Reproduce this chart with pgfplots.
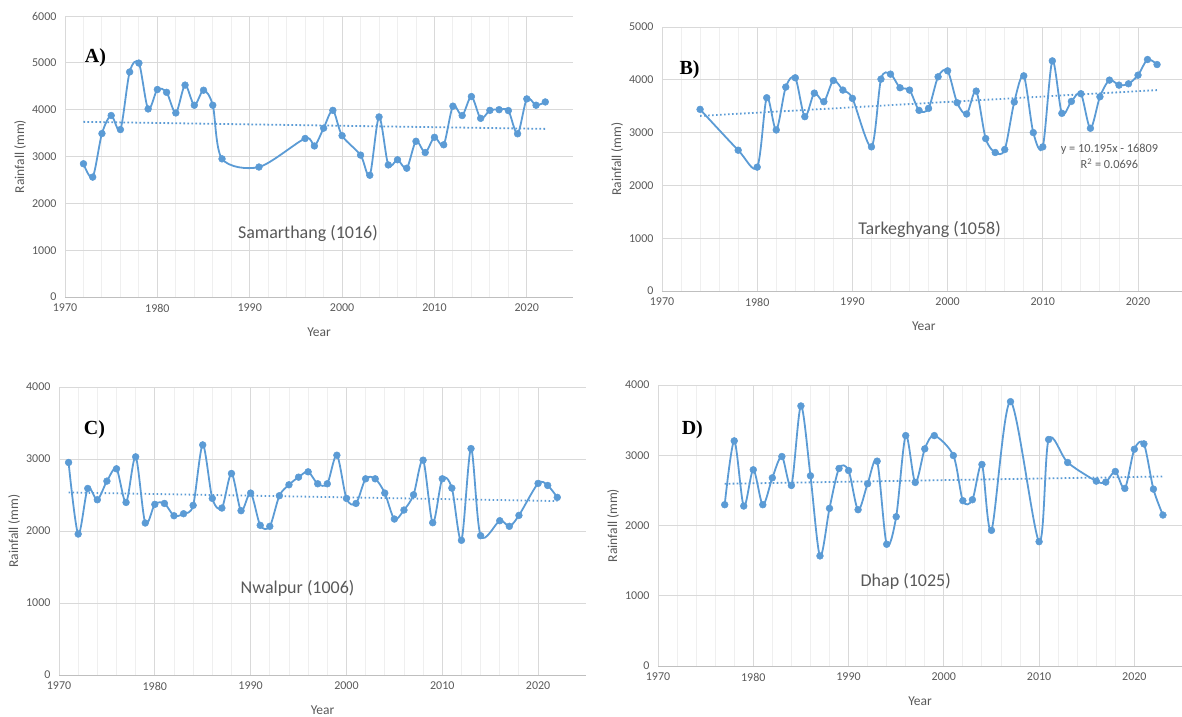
\documentclass[border=0pt]{standalone}
\usepackage{pgfplots}
\pgfplotsset{compat=1.18}
\usepackage{fontspec}
\setmainfont{Carlito}
\newfontfamily\timesfont{Liberation Serif}
\definecolor{lineblue}{HTML}{5B9BD5}
\definecolor{tickgray}{HTML}{595959}
\definecolor{gridmaj}{HTML}{D9D9D9}
\definecolor{gridmin}{HTML}{EFEFEF}
\definecolor{axisgray}{HTML}{BFBFBF}
\pgfplotsset{
  panel/.style={
    scale only axis, anchor=south west,
    xmin=1970, xmax=2025, ymin=0,
    xtick={1970,1980,...,2020},
    minor x tick num=4,
    xmajorgrids, ymajorgrids, xminorgrids,
    major grid style={draw=gridmaj, line width=0.9pt},
    minor grid style={draw=gridmin, line width=0.9pt},
    axis x line*=bottom, axis y line*=left,
    x axis line style={-, draw=axisgray, line width=1pt},
    y axis line style={-, draw=gridmaj, line width=0.9pt},
    major tick length=0pt, minor tick length=0pt,
    /pgf/number format/assume math mode=true,
    /pgf/number format/set thousands separator={},
    tick label style={font=\fontsize{12}{14}\selectfont, text=tickgray},
    yticklabel style={xshift=-5pt},
    xticklabel style={yshift=-6pt, inner sep=1pt},
    every axis y label/.style={at={(axis description cs:0,0.5)}, shift={(-45pt,0pt)}, rotate=90, anchor=center, font=\fontsize{13.5}{15}\selectfont, text=tickgray},
    every axis x label/.style={at={(axis description cs:0.5,0)}, anchor=center, yshift=-35pt, font=\fontsize{13.5}{15}\selectfont, text=tickgray},
    xlabel={Year}, ylabel={Rainfall (mm)},
    clip=false,
  },
  series/.style={color=lineblue, line width=1.8pt, smooth, tension=0.5, mark=*, mark size=3.4pt, mark options={fill=lineblue, draw=lineblue, line width=0.5pt}},
  trend/.style={color=lineblue, line width=1.8pt, dash pattern=on 1.6pt off 2.4pt, no marks},
}
\newcommand{\station}{\fontsize{18}{20}\selectfont\color{tickgray}}
\newcommand{\plabel}{\timesfont\bfseries\fontsize{20}{22}\selectfont}
\begin{document}
\begin{tikzpicture}
% ---------------- A ----------------
\begin{axis}[panel, at={(65pt,419pt)}, width=508pt, height=281pt, ymax=6000, ytick={0,1000,...,6000}]
\addplot[trend] coordinates {(1972,3740) (2022,3590)};
\addplot[series] coordinates {
(1972,2845) (1973,2560) (1974,3490) (1975,3875) (1976,3575) (1977,4805) (1978,4995) (1979,4015)
(1980,4430) (1981,4370) (1982,3930) (1983,4525) (1984,4095) (1985,4415) (1986,4095) (1987,2950)
(1991,2775) (1996,3385) (1997,3225) (1998,3605) (1999,3985) (2000,3445) (2002,3030) (2003,2600)
(2004,3845) (2005,2820) (2006,2930) (2007,2750) (2008,3325) (2009,3085) (2010,3410) (2011,3250)
(2012,4075) (2013,3875) (2014,4280) (2015,3815) (2016,3985) (2017,4000) (2018,3980) (2019,3485)
(2020,4230) (2021,4095) (2022,4165)};
\node[font=\station] at (axis cs:1996.3,1367) {Samarthang (1016)};
\node[font=\plabel] at (axis cs:1973.3,5103) {A)};
\end{axis}
% ---------------- B ----------------
\begin{axis}[panel, at={(662pt,425pt)}, width=523.6pt, height=264pt, ymax=5000, ytick={0,1000,...,5000}]
\addplot[trend] coordinates {(1974,3316) (2022,3805)};
\addplot[series] coordinates {
(1974,3440) (1978,2667) (1980,2346) (1981,3660) (1982,3050) (1983,3862) (1984,4038) (1985,3302)
(1986,3748) (1987,3585) (1988,3987) (1989,3805) (1990,3648) (1992,2730) (1993,4013) (1994,4107)
(1995,3849) (1996,3805) (1997,3421) (1998,3459) (1999,4057) (2000,4170) (2001,3566) (2002,3352)
(2003,3786) (2004,2887) (2005,2623) (2006,2679) (2007,3579) (2008,4075) (2009,3000) (2010,2730)
(2011,4358) (2012,3365) (2013,3591) (2014,3736) (2015,3082) (2016,3679) (2017,3994) (2018,3899)
(2019,3925) (2020,4088) (2021,4384) (2022,4289)};
\node[font=\station] at (axis cs:1998.1,1174) {Tarkeghyang (1058)};
\node[font=\plabel] at (axis cs:1972.9,4186) {B)};
\node[font=\fontsize{12.3}{14}\selectfont, text=tickgray] at (axis cs:2017,2689) {y = 10.195x - 16809};
\node[font=\fontsize{12.3}{14}\selectfont, text=tickgray] at (axis cs:2017,2405) {R\textsuperscript{2} = 0.0696};
\end{axis}
% ---------------- C ----------------
\begin{axis}[panel, at={(59pt,41pt)}, width=527pt, height=288pt, ymax=4000, ytick={0,1000,...,4000}]
\addplot[trend] coordinates {(1971,2535) (2022,2416)};
\addplot[series] coordinates {
(1971,2952) (1972,1958) (1973,2591) (1974,2434) (1975,2693) (1976,2864) (1977,2397) (1978,3030)
(1979,2111) (1980,2370) (1981,2383) (1982,2212) (1983,2240) (1984,2356) (1985,3196) (1986,2453)
(1987,2319) (1988,2799) (1989,2282) (1990,2527) (1991,2079) (1992,2065) (1993,2490) (1994,2642)
(1995,2748) (1996,2822) (1997,2656) (1998,2656) (1999,3053) (2000,2453) (2001,2383) (2002,2725)
(2003,2725) (2004,2527) (2005,2166) (2006,2291) (2007,2503) (2008,2984) (2009,2115) (2010,2725)
(2011,2596) (2012,1871) (2013,3145) (2014,1935) (2016,2143) (2017,2065) (2018,2217) (2020,2661)
(2021,2633) (2022,2467)};
\node[font=\station] at (axis cs:1994.9,1208) {Nwalpur (1006)};
\node[font=\plabel] at (axis cs:1973.7,3403) {C)};
\end{axis}
% ---------------- D ----------------
\begin{axis}[panel, at={(658pt,50pt)}, width=524pt, height=281pt, ymax=4000, ytick={0,1000,...,4000}]
\addplot[trend] coordinates {(1977,2594) (2023,2698)};
\addplot[series] coordinates {
(1977,2296) (1978,3205) (1979,2277) (1980,2793) (1981,2296) (1982,2679) (1983,2982) (1984,2570)
(1985,3702) (1986,2708) (1987,1567) (1988,2244) (1989,2812) (1990,2783) (1991,2225) (1992,2594)
(1993,2916) (1994,1733) (1995,2125) (1996,3280) (1997,2613) (1998,3091) (1999,3280) (2001,2996)
(2002,2353) (2003,2367) (2004,2869) (2005,1931) (2007,3763) (2010,1770) (2011,3224) (2013,2897)
(2016,2632) (2017,2618) (2018,2769) (2019,2528) (2020,3086) (2021,3162) (2022,2518) (2023,2149)};
\node[font=\station] at (axis cs:1996,1200) {Dhap (1025)};
\node[font=\plabel] at (axis cs:1973.6,3359) {D)};
\end{axis}
\pgfresetboundingbox
\useasboundingbox (0pt,0pt) rectangle (1182pt,716pt);
\end{tikzpicture}
\end{document}
